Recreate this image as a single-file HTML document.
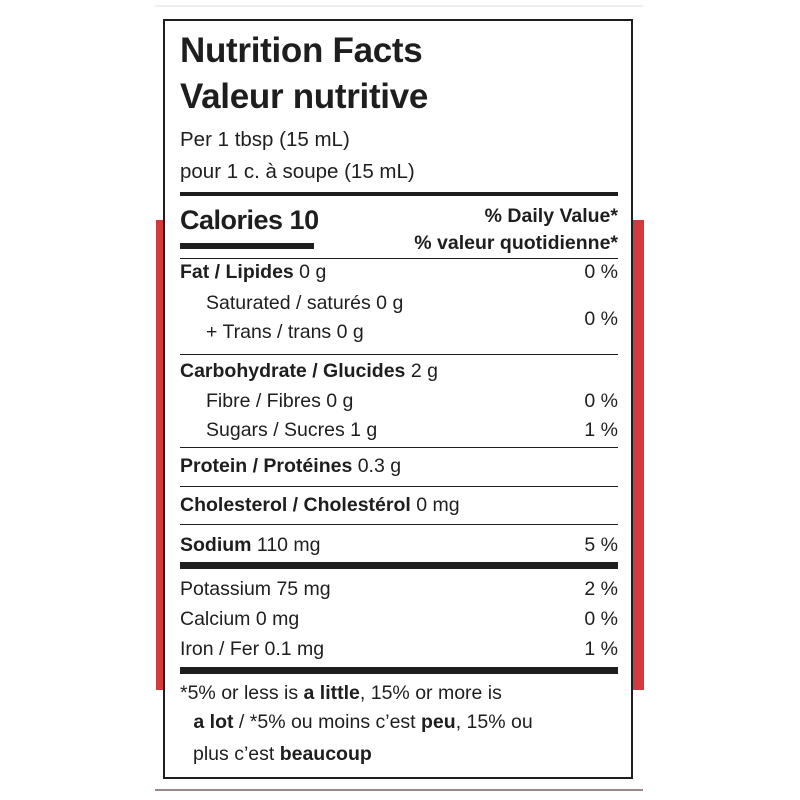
<!DOCTYPE html>
<html><head><meta charset="utf-8"><style>
body{margin:0;width:800px;height:800px;background:#fff;position:relative;overflow:hidden;font-family:"Liberation Sans",sans-serif;color:#1e1e1e}
.a{position:absolute;white-space:nowrap;line-height:30px;height:30px;font-size:19.5px}
.r{right:182px;text-align:right}
.l{left:180px}
.i{left:206px}
b{font-weight:bold}
.hr{position:absolute;left:180px;width:438px;background:#1e1e1e}
</style></head><body>
<div style="position:absolute;left:155px;top:5px;width:488px;height:2px;background:#eee"></div>
<div style="position:absolute;left:156px;top:220px;width:488px;height:470px;background:#d23a40"></div>
<div style="position:absolute;left:163px;top:19px;width:466px;height:756px;border:2px solid #1e1e1e;background:#fff"></div>
<div style="position:absolute;left:155px;top:789px;width:488px;height:2px;background:#9a8a88"></div>

<div class="a l" style="top:32px;font-size:35px;line-height:38px;height:38px;font-weight:bold;letter-spacing:-0.3px">Nutrition Facts</div>
<div class="a l" style="top:78px;font-size:35px;line-height:38px;height:38px;font-weight:bold;letter-spacing:-0.3px">Valeur nutritive</div>
<div class="a l" style="top:125px;font-size:20.5px">Per 1 tbsp (15 mL)</div>
<div class="a l" style="top:157px;font-size:20.5px">pour 1 c. à soupe (15 mL)</div>
<div class="hr" style="top:192px;height:4px"></div>
<div class="a l" style="top:205px;font-size:27px;font-weight:bold;letter-spacing:-0.5px">Calories 10</div>
<div class="hr" style="top:243px;height:6px;width:134px"></div>
<div class="a r" style="top:201px;font-weight:bold">% Daily Value*</div>
<div class="a r" style="top:228px;font-weight:bold">% valeur quotidienne*</div>
<div class="hr" style="top:258px;height:1px"></div>
<div class="a l" style="top:257px"><b>Fat / Lipides</b> 0 g</div><div class="a r" style="top:257px">0 %</div>
<div class="a i" style="top:288px">Saturated / saturés 0 g</div>
<div class="a i" style="top:317px">+ Trans / trans 0 g</div><div class="a r" style="top:304px">0 %</div>
<div class="hr" style="top:354px;height:1px"></div>
<div class="a l" style="top:356px"><b>Carbohydrate / Glucides</b> 2 g</div>
<div class="a i" style="top:386px">Fibre / Fibres 0 g</div><div class="a r" style="top:386px">0 %</div>
<div class="a i" style="top:415px">Sugars / Sucres 1 g</div><div class="a r" style="top:415px">1 %</div>
<div class="hr" style="top:447px;height:1px"></div>
<div class="a l" style="top:451px"><b>Protein / Protéines</b> 0.3 g</div>
<div class="hr" style="top:486px;height:1px"></div>
<div class="a l" style="top:490px"><b>Cholesterol / Cholestérol</b> 0 mg</div>
<div class="hr" style="top:524px;height:1px"></div>
<div class="a l" style="top:530px"><b>Sodium</b> 110 mg</div><div class="a r" style="top:530px">5 %</div>
<div class="hr" style="top:562px;height:7px"></div>
<div class="a l" style="top:574px">Potassium 75 mg</div><div class="a r" style="top:574px">2 %</div>
<div class="a l" style="top:604px">Calcium 0 mg</div><div class="a r" style="top:604px">0 %</div>
<div class="a l" style="top:634px">Iron / Fer 0.1 mg</div><div class="a r" style="top:634px">1 %</div>
<div class="hr" style="top:667px;height:7px"></div>
<div class="a l" style="top:678px">*5% or less is <b>a little</b>, 15% or more is</div>
<div class="a i" style="top:707px;left:188px">&nbsp;<b>a lot</b> / *5% ou moins c’est <b>peu</b>, 15% ou</div>
<div class="a" style="top:739px;left:193px">plus c’est <b>beaucoup</b></div>
</body></html>
